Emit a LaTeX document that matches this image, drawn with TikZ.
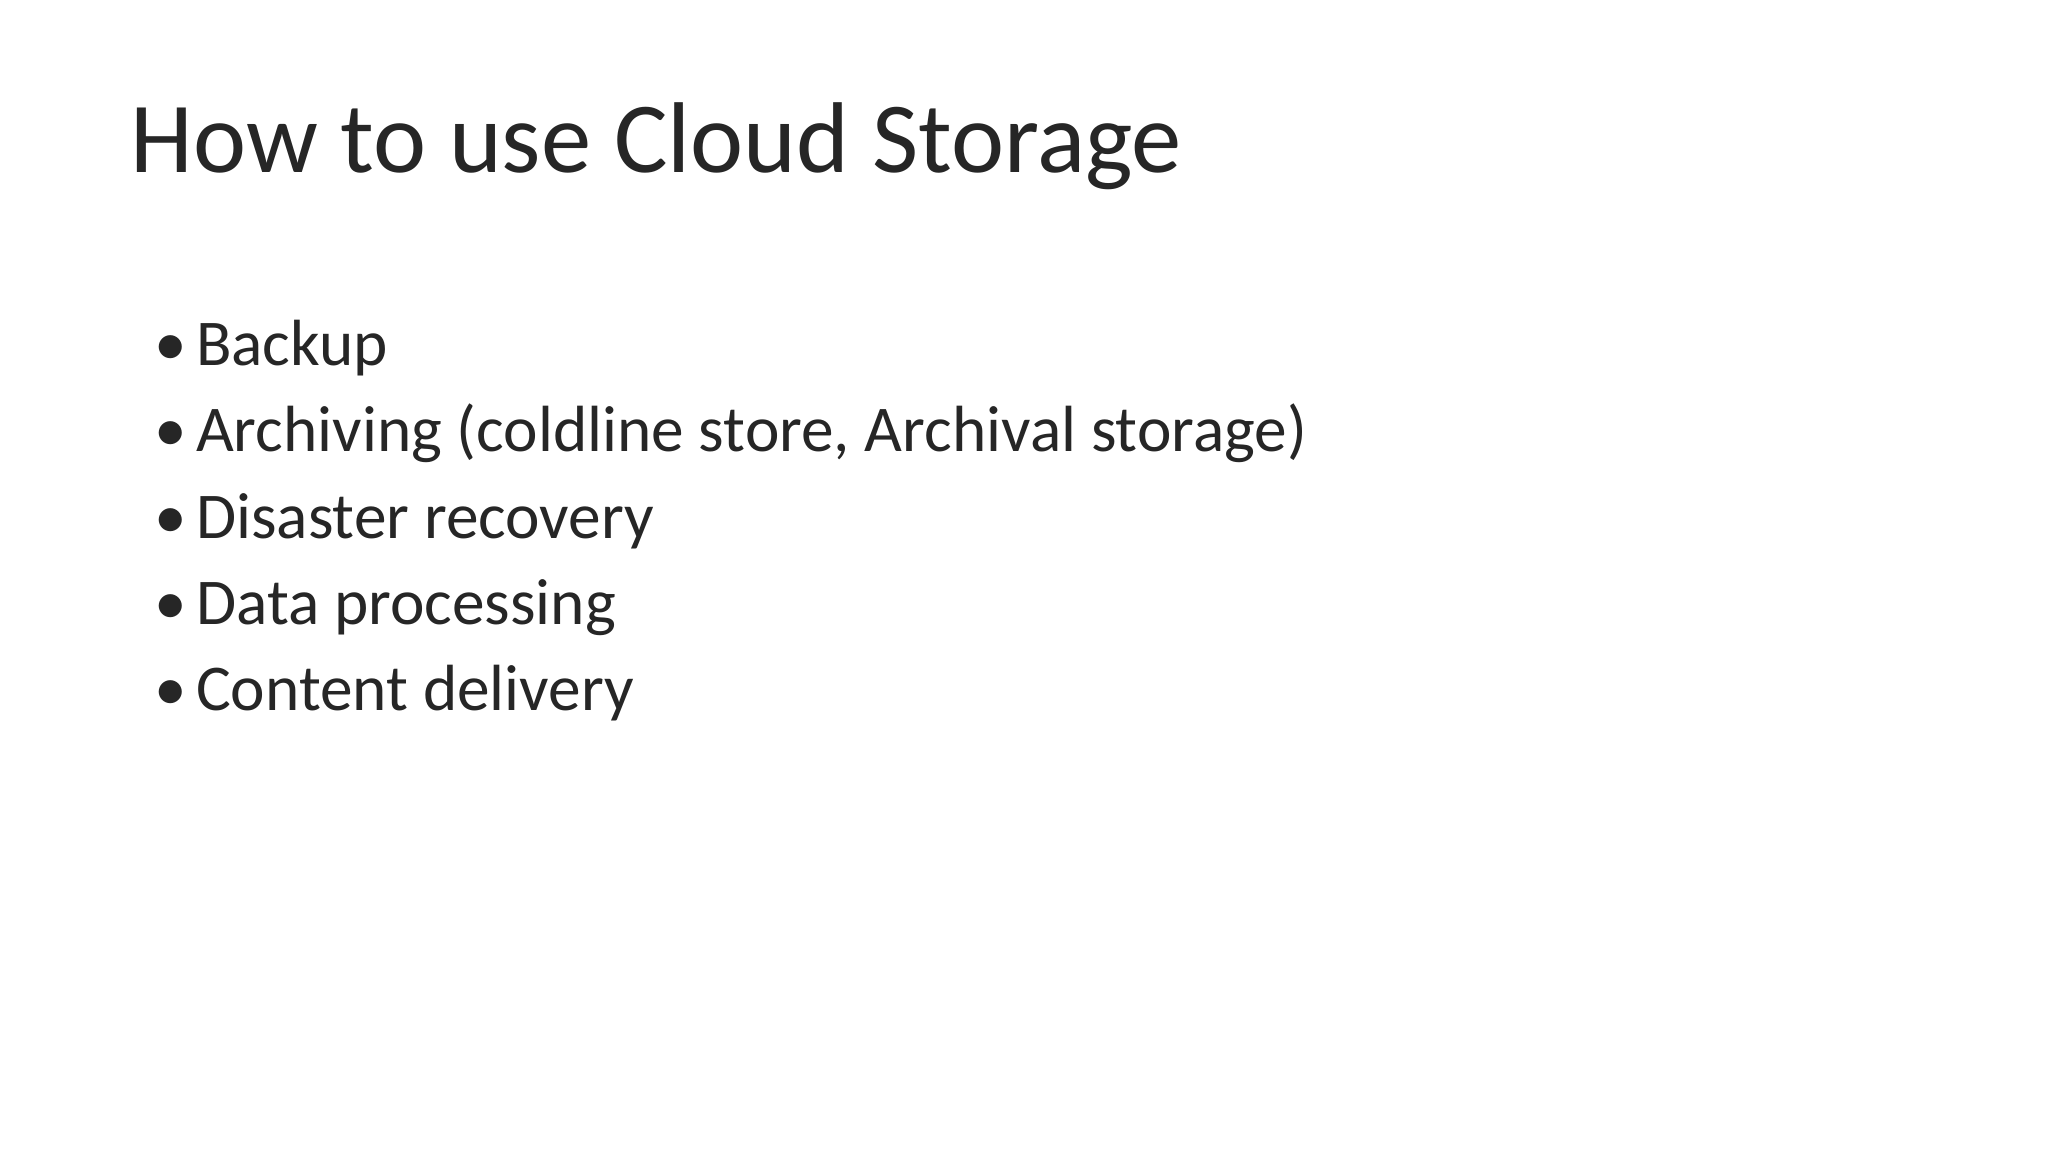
\documentclass[tikz,border=0pt]{standalone}
\usepackage{fontspec}
\setmainfont{Carlito}
\definecolor{txt}{HTML}{262626}
\begin{document}
\begin{tikzpicture}[x=1pt,y=1pt,
  title/.style={anchor=base west,inner sep=0pt,text=txt,font=\fontsize{77}{90}\selectfont},
  item/.style={anchor=base west,inner sep=0pt,text=txt,font=\fontsize{50}{60}\selectfont},
  bul/.style={anchor=base west,inner sep=0pt,text=txt,font=\fontsize{50}{60}\selectfont}]
\useasboundingbox[fill=white] (0,0) rectangle (1568,-882);
\node[title] (t) at (100,-132) {How to use Cloud Storage};
\foreach \i/\s [count=\n] in {280/Backup,346/{Archiving (coldline store, Archival storage)},412/Disaster recovery,478/Data processing,544/Content delivery}{
  \node[bul] (b\n) at (118,-\i) {•};
  \node[item] (i\n) at (150,-\i) {\s};
}
\end{tikzpicture}
\end{document}
